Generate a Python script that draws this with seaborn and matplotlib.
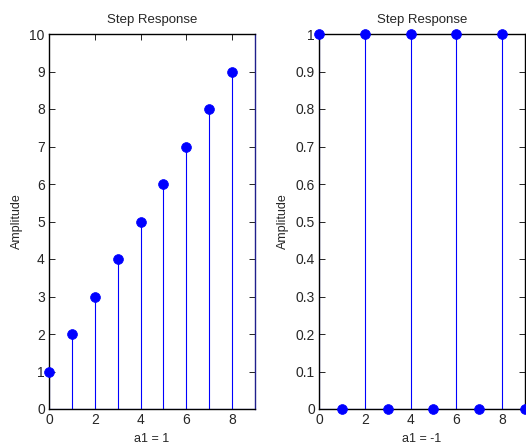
import numpy as np
import pandas as pd
import matplotlib
matplotlib.use("Agg")
import matplotlib.pyplot as plt
import seaborn as sns

# Data
n_left = [0, 1, 2, 3, 4, 5, 6, 7, 8]
y_left = [1, 2, 3, 4, 5, 6, 7, 8, 9]
n_right = [0, 1, 2, 3, 4, 5, 6, 7, 8, 9]
y_right = [1, 0, 1, 0, 1, 0, 1, 0, 1, 0]
titles = ["Step Response", "Step Response"]
xlabels = ["a1 = 1", "a1 = -1"]
ylabel = "Amplitude"

sns.set_style("white")
plt.rcParams["font.family"] = ["Liberation Sans", "DejaVu Sans"]
plt.rcParams["font.size"] = 10

fig = plt.figure(figsize=(5.26, 4.47), dpi=100)
ax1 = fig.add_axes([49/526, 38/447, 206/526, 375/447])
ax2 = fig.add_axes([319/526, 38/447, 206/526, 375/447])

def draw(ax, n, y, xlim, ylim, yticks, ytl):
    df = pd.DataFrame({"n": n, "y": y})
    ax.vlines(df["n"], 0, df["y"], color="blue", linewidth=0.8, zorder=2)
    ax.axhline(0, color="blue", linewidth=0.8, zorder=2)
    sns.scatterplot(data=df, x="n", y="y", ax=ax, color="blue", s=50,
                    edgecolor="blue", linewidth=0.5, zorder=3, clip_on=False, legend=False)
    ax.set_xlim(*xlim)
    ax.set_ylim(*ylim)
    ax.set_xticks([0, 2, 4, 6, 8])
    ax.set_yticks(yticks)
    ax.set_yticklabels(ytl)
    for s in ax.spines.values():
        s.set_color("black")
        s.set_linewidth(1.0)
        s.set_visible(True)
    ax.tick_params(axis="both", which="both", direction="in", length=4, width=0.6,
                   top=True, right=True, bottom=True, left=True, labelsize=10,
                   pad=3, color="black")
    ax.set_ylabel(ylabel, fontsize=9, labelpad=4.5)

draw(ax1, n_left, y_left, (0, 9), (0, 10), list(range(0, 11)), [str(i) for i in range(0, 11)])
ax1.set_xlabel(xlabels[0], fontsize=9, labelpad=4)
ax1.set_title(titles[0], fontsize=9.5, pad=8)
ax1.spines["right"].set_color("#20208c")

rt = [round(0.1*i, 1) for i in range(11)]
rtl = ["0"] + [f"{v:.1f}" for v in rt[1:-1]] + ["1"]
draw(ax2, n_right, y_right, (0, 9), (0, 1), rt, rtl)
ax2.set_xlabel(xlabels[1], fontsize=9, labelpad=4)
ax2.set_title(titles[1], fontsize=9.5, pad=8)

fig.savefig("out.png", dpi=100)
